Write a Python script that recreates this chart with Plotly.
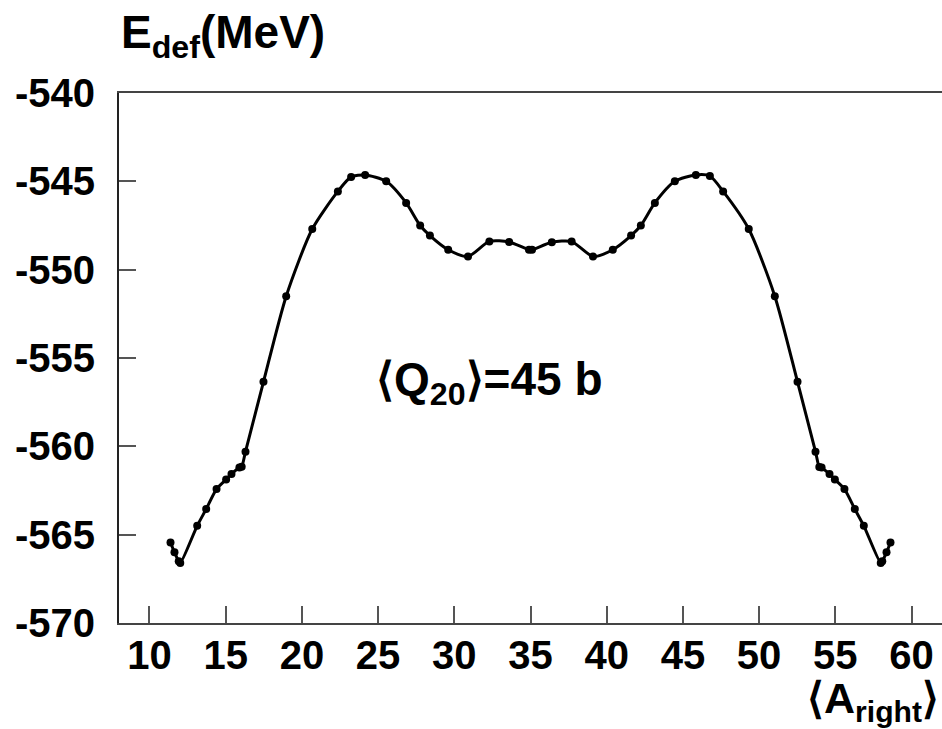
import plotly.graph_objects as go

# ---- data ----
a_right = [11.38, 11.64, 11.92, 12.02, 13.13, 13.72, 14.40, 15.03, 15.38, 15.90,
           16.05, 16.30, 17.48, 18.97, 20.68, 22.36, 23.23, 24.15, 25.53, 26.84,
           27.76, 28.40, 29.60, 30.90, 32.30, 33.60,
           34.90, 35.10,
           36.40, 37.70, 39.10, 40.40, 41.60, 42.24, 43.16, 44.47, 45.85, 46.77,
           47.64, 49.32, 51.03, 52.52, 53.70, 53.95, 54.10, 54.62, 54.97, 55.60,
           56.28, 56.87, 57.98, 58.08, 58.36, 58.62]
e_def = [-565.44, -566.00, -566.50, -566.60, -564.50, -563.55, -562.42, -561.88, -561.57, -561.20,
         -561.15, -560.30, -556.35, -551.50, -547.70, -545.57, -544.75, -544.64, -545.00, -546.22,
         -547.50, -548.07, -548.87, -549.25, -548.40, -548.43,
         -548.87, -548.87,
         -548.45, -548.41, -549.25, -548.87, -548.07, -547.50, -546.22, -545.00, -544.64, -544.70,
         -545.57, -547.70, -551.50, -556.35, -560.30, -561.17, -561.20, -561.57, -561.88, -562.42,
         -563.55, -564.50, -566.60, -566.50, -566.00, -565.44]

x_ticks = [10, 15, 20, 25, 30, 35, 40, 45, 50, 55, 60]
x_ticktext = ["10", "15", "20", "25", "30", "35", "40", "45", "50", "55", "60"]
y_ticks = [-570, -565, -560, -555, -550, -545, -540]
y_ticktext = ["-570", "-565", "-560", "-555", "-550", "-545", "-540"]

W, H = 942, 729
L, R, T, B = 119, 0, 93, 106
PW, PH = W - L - R, H - T - B


def px(x):
    return (x - L) / PW


def py(y):
    return (H - B - y) / PH


FONT = "Liberation Sans, Arial, Helvetica, sans-serif"

fig = go.Figure()
fig.add_trace(go.Scatter(
    x=a_right, y=e_def, mode="lines+markers",
    line=dict(color="black", width=3, shape="spline", smoothing=0.7),
    marker=dict(color="black", size=8),
    showlegend=False,
))

fig.update_layout(
    width=W, height=H,
    margin=dict(l=L, r=R, t=T, b=B),
    paper_bgcolor="white", plot_bgcolor="white",
    font=dict(family=FONT, color="black"),
    xaxis=dict(
        range=[8, 62], tickmode="array", tickvals=x_ticks, ticktext=x_ticktext,
        ticks="inside", ticklen=17, tickwidth=1.5, tickcolor="#555",
        showline=True, linecolor="#444", linewidth=2, mirror=True,
        showgrid=False, zeroline=False,
        tickfont=dict(family=FONT, size=40, color="black", weight="bold"),
        ticklabelstandoff=-4,
    ),
    yaxis=dict(
        range=[-570, -540], tickmode="array", tickvals=y_ticks, ticktext=y_ticktext,
        ticks="inside", ticklen=17, tickwidth=1.5, tickcolor="#555",
        showline=True, linecolor="#222", linewidth=2,
        showgrid=False, zeroline=False,
        tickfont=dict(family=FONT, size=40, color="black", weight="bold"),
        ticklabelstandoff=14,
    ),
    annotations=[
        dict(text="<b>E<sub>def</sub>(MeV)</b>", xref="paper", yref="paper",
             x=px(119), y=py(36), xanchor="left", yanchor="middle", showarrow=False,
             font=dict(family=FONT, size=46, color="black")),
        dict(text="<b>\u27e8Q<sub>20</sub>\u27e9=45 b</b>", xref="paper", yref="paper",
             x=px(374), y=py(382), xanchor="left", yanchor="middle", showarrow=False,
             font=dict(family=FONT, size=46, color="black")),
        dict(text="<b>\u27e8A<sub>right</sub>\u27e9</b>", xref="paper", yref="paper",
             x=px(941), y=py(701), xanchor="right", yanchor="middle", showarrow=False,
             font=dict(family=FONT, size=43, color="black")),
    ],
)

fig.write_html("out.html")
